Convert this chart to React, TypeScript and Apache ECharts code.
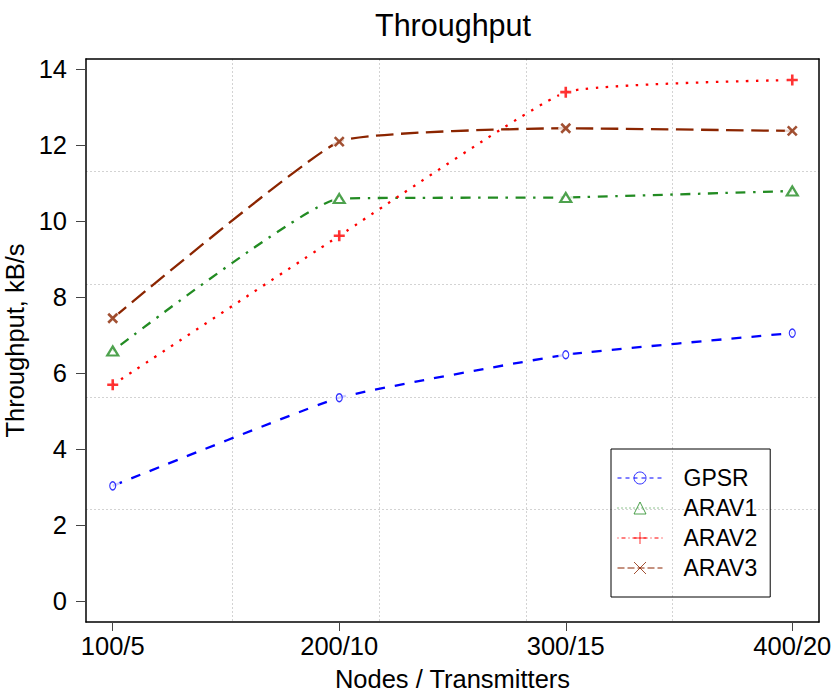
import React, { useEffect, useRef } from "react";
import * as echarts from "echarts";

const categories = ["100/5", "200/10", "300/15", "400/20"];
const gpsr = [3.03, 5.35, 6.48, 7.05];
const arav1 = [6.58, 10.59, 10.62, 10.79];
const arav2 = [5.69, 9.61, 13.39, 13.71];
const arav3 = [7.44, 12.09, 12.44, 12.37];
const yTicks = [0, 2, 4, 6, 8, 10, 12, 14];
const xTicks = [0, 1, 2, 3];

const FONT = "'Liberation Sans', Arial, sans-serif";
const PLUS = "path://M5,0L5,10M0,5L10,5";
const CROSS = "path://M0,0L10,10M10,0L0,10";

const seriesDefs = [
  { name: "GPSR", values: gpsr, color: "#0000FF", dash: [10, 10], legendDash: [4, 4], symbol: "circle", size: [6, 8], bw: 1.3 },
  { name: "ARAV1", values: arav1, color: "#228B22", dash: [2.5, 7.5, 10, 7.5], legendDash: [1, 3], symbol: "triangle", size: [11, 9], bw: 2.2 },
  { name: "ARAV2", values: arav2, color: "#FF0000", dash: [2.5, 7.5], legendDash: [1, 3, 4, 3], symbol: PLUS, size: [11, 11], bw: 2.6 },
  { name: "ARAV3", values: arav3, color: "#8B2500", dash: [17.5, 7.5], legendDash: [7, 3], symbol: CROSS, size: [9, 9], bw: 2.6 },
];

export default function App() {
  const ref = useRef<HTMLDivElement>(null);
  useEffect(() => {
    if (!ref.current) return;
    const chart = echarts.init(ref.current, null, { renderer: "svg" });
    const toPts = (vals: number[]) => vals.map((v, i) => [i, v]);
    const lineSeries = seriesDefs.map((s) => ({
      name: s.name,
      type: "line",
      data: toPts(s.values),
      smooth: 0.12,
      symbol: s.symbol,
      showSymbol: false,
      z: 2,
      lineStyle: { color: s.color, width: 2.3, type: s.dash, cap: "butt" },
      itemStyle: { color: s.color },
      xAxisIndex: 0,
      yAxisIndex: 0,
    }));
    const halo = {
      name: "halo",
      type: "scatter",
      data: seriesDefs.flatMap((s) => toPts(s.values)),
      symbol: "circle",
      symbolSize: 15,
      itemStyle: { color: "#ffffff" },
      silent: true,
      z: 3,
      xAxisIndex: 0,
      yAxisIndex: 0,
    };
    const markers = seriesDefs.map((s) => ({
      name: s.name + "-marker",
      type: "scatter",
      data: toPts(s.values),
      symbol: s.symbol,
      symbolSize: s.size,
      itemStyle: { color: "rgba(0,0,0,0)", borderColor: s.color, borderWidth: s.bw },
      silent: true,
      z: 4,
      xAxisIndex: 0,
      yAxisIndex: 0,
    }));
    const gridLine = { color: "#d3d3d3", width: 1, type: [2, 2] };
    const boxLine = { show: true, onZero: false, lineStyle: { color: "#000", width: 1.5 } };
    chart.setOption({
      animation: false,
      title: {
        text: "Throughput",
        left: 453,
        textAlign: "center",
        top: 9,
        padding: 0,
        textStyle: { fontSize: 30.5, fontWeight: "normal", color: "#000", fontFamily: FONT },
      },
      grid: { left: 86, top: 59, width: 733, height: 563, containLabel: false, outerBoundsMode: "none" },
      xAxis: [
        {
          type: "value",
          position: "bottom",
          min: -0.118,
          max: 3.118,
          axisLine: boxLine,
          axisTick: { show: true, customValues: xTicks, length: 9, lineStyle: { color: "#444", width: 1 } },
          axisLabel: {
            customValues: xTicks,
            formatter: (v: number) => categories[Math.round(v)],
            margin: 11,
            fontSize: 25.5,
            color: "#000",
            fontFamily: FONT,
          },
          splitLine: { show: false },
          name: "Nodes / Transmitters",
          nameLocation: "middle",
          nameGap: 44,
          nameTextStyle: { fontSize: 25.5, color: "#000", fontFamily: FONT },
        },
        {
          type: "value",
          position: "top",
          min: 0,
          max: 5,
          interval: 1,
          axisLine: boxLine,
          axisTick: { show: false },
          axisLabel: { show: false },
          splitLine: { show: true, showMinLine: false, showMaxLine: false, lineStyle: gridLine },
        },
      ],
      yAxis: [
        {
          type: "value",
          position: "left",
          min: -0.5526,
          max: 14.263,
          axisLine: boxLine,
          axisTick: { show: true, customValues: yTicks, length: 10, lineStyle: { color: "#444", width: 1 } },
          axisLabel: {
            customValues: yTicks,
            margin: 19,
            fontSize: 25.5,
            color: "#000",
            fontFamily: FONT,
            padding: [5, 0, 0, 0],
          },
          splitLine: { show: false },
          name: "Throughput, kB/s",
          nameLocation: "middle",
          nameGap: 49,
          nameTextStyle: { fontSize: 25.5, color: "#000", fontFamily: FONT },
        },
        {
          type: "value",
          position: "right",
          min: 0,
          max: 5,
          interval: 1,
          axisLine: boxLine,
          axisTick: { show: false },
          axisLabel: { show: false },
          splitLine: { show: true, showMinLine: false, showMaxLine: false, lineStyle: gridLine },
        },
      ],
      legend: {
        orient: "vertical",
        left: 611,
        top: 449,
        padding: [14, 13, 14, 6],
        borderColor: "#000",
        borderWidth: 1,
        itemWidth: 45,
        itemHeight: 15,
        itemGap: 0,
        selectedMode: false,
        textStyle: { fontSize: 23, color: "#000", fontFamily: FONT, lineHeight: 30, padding: [0, 0, 0, 16] },
        data: seriesDefs.map((s) => ({
          name: s.name,
          itemStyle: { color: "rgba(0,0,0,0)", borderColor: s.color, borderWidth: 1, opacity: 0.8 },
          lineStyle: { color: s.color, width: 1, type: s.legendDash },
        })),
      },
      series: [...lineSeries, halo, ...markers],
    });
    return () => chart.dispose();
  }, []);
  return <div ref={ref} style={{ position: "absolute", left: 0, top: 0, width: 836, height: 695 }} />;
}
